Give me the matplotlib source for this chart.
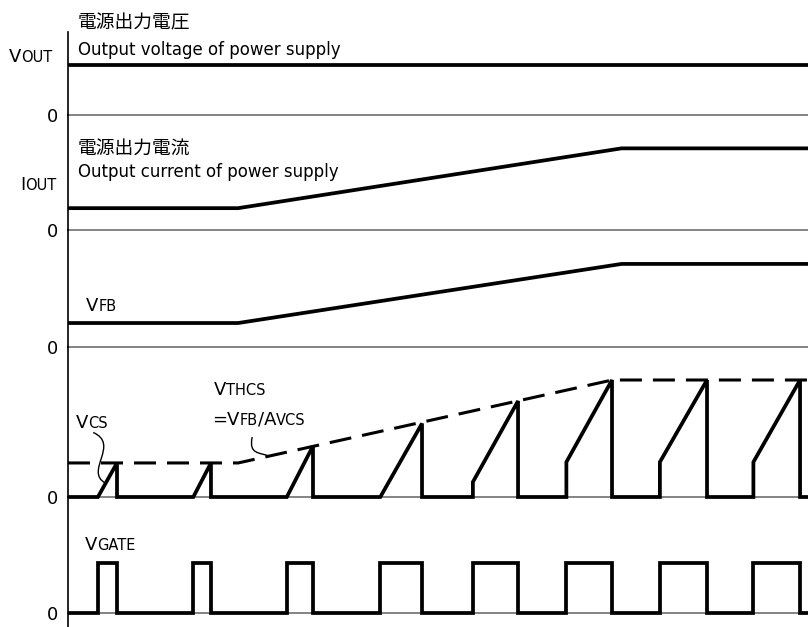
import matplotlib
matplotlib.use("Agg")
import matplotlib.pyplot as plt
from matplotlib.path import Path
from matplotlib.patches import PathPatch
from matplotlib.transforms import IdentityTransform

plt.rcParams['font.family'] = ['DejaVu Sans', 'Noto Sans CJK JP']

# time axis in switching periods
t_end = 7.914

# output voltage (normalised to panel height)
vout_t = [0, t_end]
vout_y = [0.60, 0.60]

# output current: steps up between two load levels
iout_t = [0, 1.82, 5.92, t_end]
iout_y = [0.19, 0.19, 0.71, 0.71]

# feedback voltage follows the load
vfb_t = [0, 1.82, 5.92, t_end]
vfb_y = [0.205, 0.205, 0.71, 0.71]

# current sense threshold VTHCS = VFB / AVCS
vth_t = [0, 1.82, 5.82, t_end]
vth_y = [0.227, 0.227, 0.78, 0.78]

# switching cycles: gate on / off instants, current sense pedestal and peak
pulse_on = [0.32, 1.34, 2.34, 3.34, 4.33, 5.33, 6.33, 7.33]
pulse_off = [0.524, 1.529, 2.62, 3.786, 4.813, 5.818, 6.834, 7.829]
cs_step = [0, 0, 0, 0, 0.10, 0.233, 0.233, 0.233]
cs_peak = [0.227, 0.227, 0.34, 0.49, 0.64, 0.78, 0.78, 0.78]
gate_high = 0.43

W, H = 808, 627
fig = plt.figure(figsize=(W / 100, H / 100), dpi=100)

x0 = 68
# panels as (top, bottom) in pixels, plus y-limits
panels = [(32, 115, (0, 1)), (115, 230, (0, 1)), (230, 347, (0, 1)),
          (347, 497, (0, 1)), (497, 627, (-14 / 116, 1))]
axes = []
for top, bot, ylim in panels:
    ax = fig.add_axes([x0 / W, 1 - bot / H, (W - x0) / W, (bot - top) / H])
    ax.set_xlim(0, t_end)
    ax.set_ylim(*ylim)
    ax.patch.set_visible(False)
    for s in ['top', 'right', 'bottom']:
        ax.spines[s].set_visible(False)
    ax.spines['left'].set_linewidth(1.2)
    ax.set_xticks([])
    ax.set_yticks([])
    ax.axhline(0, color='#6e6e6e', lw=1.2, clip_on=False, zorder=1)
    axes.append(ax)

ax_v, ax_i, ax_fb, ax_cs, ax_g = axes
thick = dict(color='black', lw=2.7, clip_on=False, solid_joinstyle='miter',
             solid_capstyle='butt', zorder=3)

ax_v.plot(vout_t, vout_y, **thick)
ax_i.plot(iout_t, iout_y, **thick)
ax_fb.plot(vfb_t, vfb_y, **thick)

# current sense sawtooth and gate drive
cs_t, cs_y = [0], [0]
g_t, g_y = [0], [0]
for on, off, st, pk in zip(pulse_on, pulse_off, cs_step, cs_peak):
    cs_t += [on, on, off, off]
    cs_y += [0, st, pk, 0]
    g_t += [on, on, off, off]
    g_y += [0, gate_high, gate_high, 0]
cs_t.append(t_end)
cs_y.append(0)
g_t.append(t_end)
g_y.append(0)

ax_cs.plot(cs_t, cs_y, **thick)
ax_cs.plot(vth_t, vth_y, color='black', lw=2.2, dashes=(7.2, 3.6),
           clip_on=False, zorder=3)
ax_g.plot(g_t, g_y, **thick)

# leader lines for the VCS and VTHCS labels
def leader(ax, pts):
    path = Path(pts, [Path.MOVETO, Path.CURVE4, Path.CURVE4, Path.CURVE4])
    ax.add_patch(PathPatch(path, fc='none', ec='black', lw=1.0, clip_on=False))

leader(ax_cs, [(0.27, 0.43), (0.56, 0.35), (0.17, 0.17), (0.40, 0.093)])
leader(ax_cs, [(1.97, 0.40), (1.93, 0.28), (2.05, 0.30), (2.16, 0.27)])


def label(x, y, parts):
    # draw mixed-size text on a common baseline, x/y in pixels from top-left
    r = fig.canvas.get_renderer()
    for s, size in parts:
        t = fig.text(x, H - y, s, fontsize=size, ha='left', va='baseline',
                     transform=IdentityTransform())
        x += t.get_window_extent(r).width


big, small = 13, 10.5
label(9, 62, [('V', big), ('OUT', small)])
label(20, 190, [('I', big), ('OUT', small)])
label(86, 311, [('V', big), ('FB', small)])
label(76, 428, [('V', big), ('CS', small)])
label(214, 395, [('V', big), ('THCS', small)])
label(212, 425, [('=V', big), ('FB', small), ('/A', big), ('VCS', small)])
label(85, 550, [('V', big), ('GATE', small)])

label(78, 28, [('電源出力電圧', 13.5)])
label(78, 55, [('Output voltage of power supply', 12)])
label(78, 154, [('電源出力電流', 13.5)])
label(78, 177, [('Output current of power supply', 12)])

for yz in [115, 230, 347, 497, 613]:
    fig.text(58, H - yz - 2, '0', fontsize=13, ha='right', va='center',
             transform=IdentityTransform())

fig.savefig('out.png', dpi=100)
